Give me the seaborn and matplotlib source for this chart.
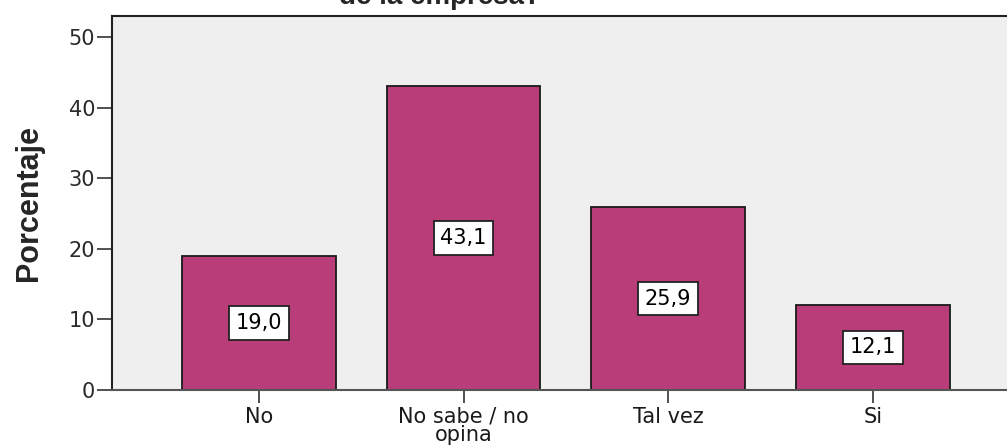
import pandas as pd
import matplotlib.pyplot as plt
import seaborn as sns

# data
categories = ["No", "No sabe / no\nopina", "Tal vez", "Si"]
percent = [19.0, 43.1, 25.9, 12.1]
yticks = [0, 10, 20, 30, 40, 50]

df = pd.DataFrame({"cat": categories, "pct": percent})

sns.set_theme(style="white")
plt.rcParams["font.family"] = ["DejaVu Sans"]

fig = plt.figure(figsize=(10.07, 4.46), dpi=100)
ax = fig.add_axes([112 / 1007, 56 / 446, 1 - 112 / 1007 + 0.01, (390 - 16) / 446])
ax.set_facecolor("#efefef")

sns.barplot(data=df, x="cat", y="pct", ax=ax, color="#b93d79", saturation=1,
            width=0.75, edgecolor="#1a1a1a", linewidth=1.3)

for i, v in enumerate(percent):
    ax.text(i, v / 2, f"{v:.1f}".replace(".", ","), ha="center", va="center",
            fontsize=15, color="black",
            bbox=dict(boxstyle="square,pad=0.32", fc="white", ec="#222222", lw=1.3))

ax.set_ylim(0, 53)
ax.set_xlim(-0.718, 3.705)
ax.set_yticks(yticks)
ax.set_yticklabels([str(t) for t in yticks], fontsize=15, color="#2a2a2a")
ax.tick_params(axis="y", left=True, length=11, width=1.2, color="#333333", pad=1)
ax.tick_params(axis="x", bottom=True, length=9, width=1.2, color="#333333",
               labelsize=15, labelcolor="#1a1a1a", pad=3)
for lab in ax.get_xticklabels():
    lab.set_linespacing(0.9)

ax.set_xlabel("")
ax.set_ylabel("Porcentaje", fontsize=22, fontweight="bold", labelpad=18,
              family="Liberation Sans")

for side in ["top", "left", "bottom"]:
    ax.spines[side].set_color("#222222")
    ax.spines[side].set_linewidth(1.5)
ax.spines["bottom"].set_color("#555555")
ax.spines["right"].set_visible(False)

# title mostly cropped off at the top of the image
fig.text(440 / 1007, 1 - 4 / 446, "de la empresa?", ha="center", va="baseline",
         fontsize=20, fontweight="bold", family="Liberation Sans")

fig.savefig("out.png", dpi=100)
